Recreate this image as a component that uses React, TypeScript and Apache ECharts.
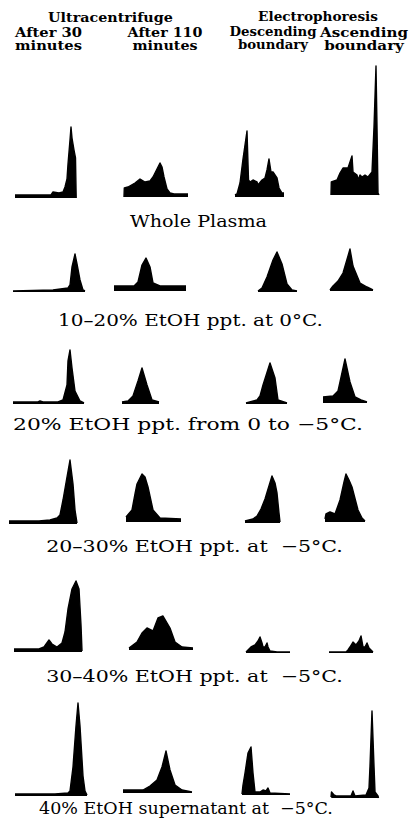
import React, { useEffect, useRef } from "react";
import * as echarts from "echarts";

// Column headings
const groupHeads = ["Ultracentrifuge", "Electrophoresis"];
const columnHeads = [
  ["After 30", "minutes"],
  ["After 110", "minutes"],
  ["Descending", "boundary"],
  ["Ascending", "boundary"],
];

// Row captions
const rowCaptions = [
  "Whole Plasma",
  "10–20% EtOH ppt. at 0°C.",
  "20% EtOH ppt. from 0 to −5°C.",
  "20–30% EtOH ppt. at  −5°C.",
  "30–40% EtOH ppt. at  −5°C.",
  "40% EtOH supernatant at  −5°C.",
];

// Profiles: [position along cell, height of trace]
const plasmaUC30 = [[0,3],[36,3],[38,6],[44,5],[48,6],[50,11],[52,19],[53,34],[55,58],[56,71],[57,60],[59,48],[60.5,40],[61,10],[61.2,0]];
const plasmaUC110 = [[0,0],[0.3,9],[4,10],[11,14],[16,18],[21,15],[26,16],[29,20],[33,28],[36,34],[38,30],[40,20],[43,8],[46,4],[50,3],[64,3]];
const plasmaDesc = [[0,2],[2,3],[5,14],[8,38],[12,66],[13.5,17],[15,15],[18,17],[22,15],[23,12],[27,17],[30,19],[32,27],[34,38],[36,25],[38,25],[42,19],[44,9],[47,4],[49,4]];
const plasmaAsc = [[0,0],[0.3,13],[6,15],[9,22],[12,27],[17,27],[21,39],[22,23],[26,20],[27,15],[29,20],[31,18],[34,20],[37,18],[41,23],[43,68],[45,129],[46,68],[47,2],[48,0]];

const frac1020UC30 = [[0,1],[20,1.5],[40,2],[55,4],[57,7],[59,25],[62,38],[64,28],[67,12],[70,2],[72,1]];
const frac1020UC110 = [[0,5],[20,5],[24,9],[28,26],[32,33],[36,24],[39,8],[46,5],[72,5]];
const frac1020Desc = [[0,1],[4,4],[9,15],[15,32],[19,40],[24,28],[29,8],[34,2],[39,1]];
const frac1020Asc = [[0,1],[3,5],[8,10],[13,18],[18,35],[20,42],[23,25],[30,8],[37,4],[43,1]];

const frac20UC30 = [[0,2],[25,2],[27,3],[30,2],[45,2],[50,4],[54,19],[55,43],[57,54],[59,36],[62,13],[67,3],[71,1]];
const frac20UC110 = [[0,2],[6,3],[11,8],[16,23],[20,36],[25,19],[30,4],[37,2]];
const frac20Desc = [[0,1],[11,4],[14,8],[17,19],[24,41],[29,26],[32,4],[41,1]];
const frac20Asc = [[0,6],[10,7],[15,12],[17,21],[22,44],[27,21],[32,6],[38,3],[44,1]];

const frac2030UC30 = [[0,3],[30,3],[41,4],[48,6],[51,9],[54,24],[58,47],[61,64],[64,40],[66,14],[68,1]];
const frac2030UC110 = [[0,5],[6,12],[9,28],[11,38],[16,48],[19,45],[22,35],[27,12],[34,4],[55,3]];
const frac2030Desc = [[0,2],[8,4],[12,7],[16,14],[20,24],[27,47],[30,40],[32,30],[34,10],[35,1]];
const frac2030Asc = [[0,3],[1,8],[5,10],[10,8],[15,22],[19,40],[21,48],[24,42],[27,35],[33,12],[37,4],[40,1]];

const frac3040UC30 = [[0,3],[25,3],[30,5],[35,12],[38,8],[43,5],[48,9],[51,20],[54,43],[58,63],[62,71],[65,63],[67,27],[68,1]];
const frac3040UC110 = [[0,2],[8,8],[13,17],[18,22],[24,19],[29,32],[34,34],[41,22],[46,8],[53,3],[64,2]];
const frac3040Desc = [[0,1],[3,4],[5,6],[9,8],[12,12],[14,16],[16,10],[17,6],[19,6],[21,10],[22,6],[24,2],[31,1],[44,1]];
const frac3040Asc = [[0,1],[17,1],[19,3],[21,6],[24,11],[27,8],[30,12],[32,17],[34,6],[36,6],[38,10],[40,5],[42,3],[44,1]];

const superUC30 = [[0,2],[40,2],[53,3],[55,5],[58,29],[61,70],[63,93],[65,70],[68,20],[70,5],[72,1]];
const superUC110 = [[0,3],[20,3],[27,7],[34,13],[39,26],[43,42],[47,23],[52,8],[59,3],[69,1]];
const superDesc = [[0,1],[1,10],[3,22],[6,42],[9,48],[11,22],[13,3],[18,3],[21,5],[24,4],[26,7],[28,2],[48,1]];
const superAsc = [[0,1],[0.5,6],[3,3],[5,2],[20,2],[22,7],[24,2],[35,3],[38,10],[39,32],[41,87],[43,32],[44,6],[47,2],[47.5,0]];

const profileRows = [
  [plasmaUC30, plasmaUC110, plasmaDesc, plasmaAsc],
  [frac1020UC30, frac1020UC110, frac1020Desc, frac1020Asc],
  [frac20UC30, frac20UC110, frac20Desc, frac20Asc],
  [frac2030UC30, frac2030UC110, frac2030Desc, frac2030Asc],
  [frac3040UC30, frac3040UC110, frac3040Desc, frac3040Asc],
  [superUC30, superUC110, superDesc, superAsc],
];

// Layout (pixels): left edge and baseline of each cell
const cellLefts = [
  [15, 124, 235, 331],
  [13, 114, 258, 330],
  [13, 122, 246, 323],
  [9, 126, 245, 325],
  [14, 129, 246, 329],
  [15, 123, 242, 331],
];
const cellBases = [
  [198, 197, 197, 195],
  [292, 291, 292, 291],
  [404, 404, 404, 403],
  [524, 522, 523, 522],
  [652, 650, 653, 653],
  [796, 793, 795, 798],
];
// caption centre x, centre y, target width
const captionPos = [
  [198.5, 221, 137],
  [190.5, 320, 265],
  [188, 424, 350],
  [194.5, 546, 297],
  [194.5, 676, 297],
  [186, 808, 294],
];
const groupHeadPos = [
  [110.5, 17, 125],
  [318, 17, 120],
];
const columnHeadPos = [
  [48.5, 38.5, 67],
  [165, 38.5, 75],
  [273, 38.5, 87],
  [364, 38.5, 88],
];
const CELL_H = 140;
const SERIF = "DejaVu Serif";

function measure(text: string, font: string): number {
  const cv = document.createElement("canvas");
  const ctx = cv.getContext("2d");
  if (!ctx) return 1;
  ctx.font = font;
  return ctx.measureText(text).width || 1;
}

export default function App() {
  const ref = useRef<HTMLDivElement>(null);
  useEffect(() => {
    if (!ref.current) return;
    const chart = echarts.init(ref.current, undefined, { renderer: "svg" });
    const grids: any[] = [];
    const xAxes: any[] = [];
    const yAxes: any[] = [];
    const series: any[] = [];
    profileRows.forEach((row, r) => {
      row.forEach((data, c) => {
        const w = data[data.length - 1][0];
        const i = grids.length;
        grids.push({
          left: cellLefts[r][c],
          top: cellBases[r][c] - CELL_H,
          width: w,
          height: CELL_H,
          containLabel: false,
          show: false,
        });
        xAxes.push({ type: "value", gridIndex: i, min: 0, max: w, show: false });
        yAxes.push({ type: "value", gridIndex: i, min: 0, max: CELL_H, show: false });
        series.push({
          type: "line",
          xAxisIndex: i,
          yAxisIndex: i,
          data,
          symbol: "none",
          smooth: false,
          lineStyle: { color: "#000", width: 1.4, join: "round" },
          areaStyle: { color: "#000", opacity: 1 },
          silent: true,
        });
      });
    });

    const headSize = 13;
    const headFontCss = `bold ${headSize}px "${SERIF}"`;
    const headStyle = { fontFamily: SERIF, fontWeight: "bold", fontSize: headSize, fill: "#000", align: "center", verticalAlign: "middle" };
    const graphics: any[] = [];
    groupHeads.forEach((t, g) => {
      const [x, y, tw] = groupHeadPos[g];
      graphics.push({ type: "text", x, y, scaleX: tw / measure(t, headFontCss), style: { ...headStyle, text: t } });
    });
    columnHeads.forEach((lines, c) => {
      const [x, y, tw] = columnHeadPos[c];
      const widest = Math.max(measure(lines[0], headFontCss), measure(lines[1], headFontCss));
      graphics.push({
        type: "text",
        x,
        y,
        scaleX: tw / widest,
        style: { ...headStyle, text: lines.join("\n"), lineHeight: 13 },
      });
    });
    const capSize = 17;
    const capFontCss = `${capSize}px "${SERIF}"`;
    rowCaptions.forEach((t, r) => {
      const [x, y, tw] = captionPos[r];
      graphics.push({
        type: "text",
        x,
        y,
        scaleX: tw / measure(t, capFontCss),
        style: { text: t, fontFamily: SERIF, fontSize: capSize, fill: "#000", align: "center", verticalAlign: "middle" },
      });
    });

    chart.setOption({
      animation: false,
      backgroundColor: "#fff",
      grid: grids,
      xAxis: xAxes,
      yAxis: yAxes,
      series,
      graphic: graphics,
    });
    return () => chart.dispose();
  }, []);
  return <div ref={ref} style={{ position: "absolute", left: 0, top: 0, width: 412, height: 834 }} />;
}
